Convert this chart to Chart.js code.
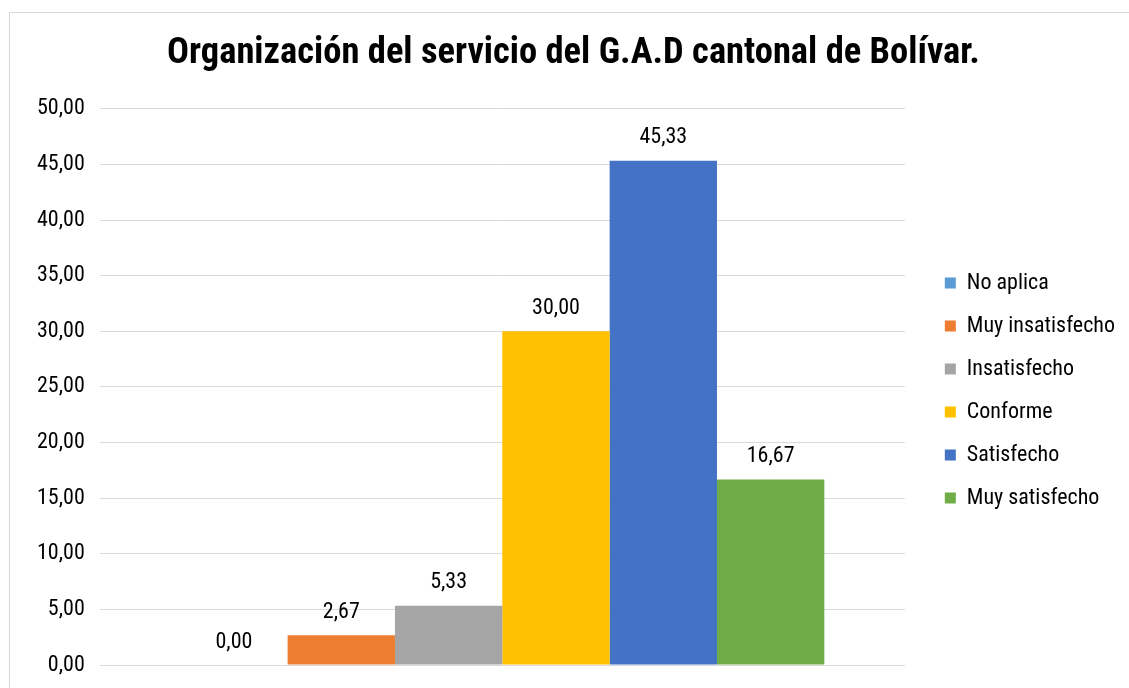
<!DOCTYPE html>
<html>
<head>
<meta charset="utf-8">
<script src="https://cdn.jsdelivr.net/npm/chart.js@4/dist/chart.umd.min.js"></script>
<style>
  body { margin: 0; background: #fff; overflow: hidden; }
  #wrap { position: relative; width: 1129px; height: 688px; }
  #frame { position: absolute; left: 9px; top: 12px; width: 1200px; height: 800px; border: 1px solid #d9d9d9; box-sizing: border-box; }
  canvas { position: absolute; left: 0; top: 0; }
</style>
</head>
<body>
<div id="wrap">
  <div id="frame"></div>
  <canvas id="myChart" width="1129" height="688"></canvas>
</div>
<script>
// data
const categories = [''];
const seriesNames = ['No aplica', 'Muy insatisfecho', 'Insatisfecho', 'Conforme', 'Satisfecho', 'Muy satisfecho'];
const seriesValues = [0.00, 2.67, 5.33, 30.00, 45.33, 16.67];
const seriesColors = ['#5B9BD5', '#ED7D31', '#A5A5A5', '#FFC000', '#4472C4', '#70AD47'];
const yMin = 0;
const yMax = 50;
const yStep = 5;

const fontFam = "'Liberation Sans Narrow', 'Arial Narrow', 'Roboto Condensed', sans-serif";
const legendGap = 19;   // extra room between plot and legend
const legendDrop = 53;  // push legend items down

function fmt(v) {
    return v.toFixed(2).replace('.', ',');
}

// simple value labels above bars
const valueLabels = {
    id: 'valueLabels',
    afterDatasetsDraw(chart) {
        let ctx = chart.ctx;
        ctx.save();
        ctx.font = '22px ' + fontFam;
        ctx.fillStyle = '#000';
        ctx.textAlign = 'center';
        ctx.textBaseline = 'bottom';
        chart.data.datasets.forEach((ds, i) => {
            let meta = chart.getDatasetMeta(i);
            meta.data.forEach((bar, j) => {
                ctx.fillText(fmt(ds.data[j]), bar.x, bar.y - 12);
            });
        });
        ctx.restore();
    }
};

// widen the legend box, then slide it back so the gap opens on the plot side
const legendSpace = {
    id: 'legendSpace',
    beforeInit(chart) {
        let fit = chart.legend.fit;
        chart.legend.fit = function () {
            fit.bind(chart.legend)();
            this.width += legendGap;
        };
    },
    afterLayout(chart) {
        chart.legend.left += legendGap;
        chart.legend.right += legendGap;
        chart.legend.top += legendDrop;
        chart.legend.bottom += legendDrop;
    }
};

let datasets = seriesNames.map((name, i) => ({
    label: name,
    data: [seriesValues[i]],
    backgroundColor: seriesColors[i],
    borderWidth: 0,
    categoryPercentage: 0.8,
    barPercentage: 1.0
}));

let ctx = document.getElementById('myChart').getContext('2d');
new Chart(ctx, {
    type: 'bar',
    data: {
        labels: categories,
        datasets: datasets
    },
    plugins: [valueLabels, legendSpace],
    options: {
        responsive: false,
        animation: false,
        layout: {
            padding: { left: 22, right: 4, top: 10, bottom: 23 }
        },
        plugins: {
            title: {
                display: true,
                text: 'Organización del servicio del G.A.D cantonal de Bolívar.',
                color: '#000',
                font: { family: fontFam, size: 36.5, weight: 'bold' },
                padding: { top: 22, bottom: 33 }
            },
            legend: {
                position: 'right',
                align: 'center',
                labels: {
                    color: '#000',
                    font: { family: fontFam, size: 22 },
                    boxWidth: 11,
                    boxHeight: 11,
                    padding: 21
                }
            },
            tooltip: { enabled: false }
        },
        scales: {
            x: {
                display: false
            },
            y: {
                min: yMin,
                max: yMax,
                afterFit(scale) {
                    scale.paddingTop = 0;
                    scale.paddingBottom = 0;
                },
                ticks: {
                    stepSize: yStep,
                    color: '#000',
                    padding: 15,
                    font: { family: fontFam, size: 22 },
                    callback: (v) => fmt(v)
                },
                grid: { color: '#d9d9d9', drawTicks: false },
                border: { display: false }
            }
        }
    }
});
</script>
</body>
</html>
